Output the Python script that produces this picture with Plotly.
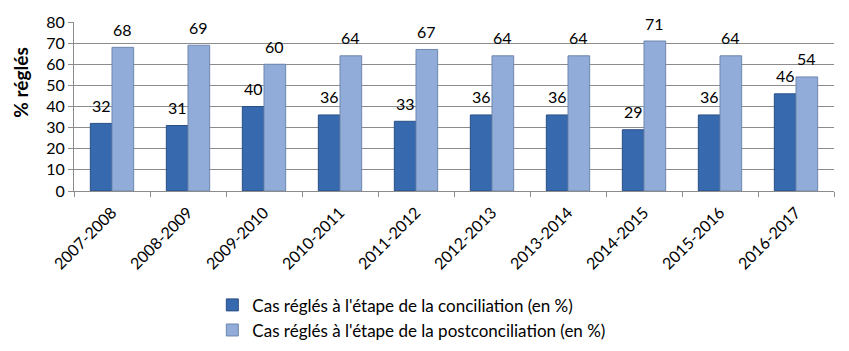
import plotly.graph_objects as go

categories = ["2007-2008", "2008-2009", "2009-2010", "2010-2011", "2011-2012",
              "2012-2013", "2013-2014", "2014-2015", "2015-2016", "2016-2017"]
conciliation = [32, 31, 40, 36, 33, 36, 36, 29, 36, 46]
postconciliation = [68, 69, 60, 64, 67, 64, 64, 71, 64, 54]
series_names = ["Cas réglés à l'étape de la conciliation (en %)",
                "Cas réglés à l'étape de la postconciliation (en %)"]
y_title = "% réglés"

FONT = "Lato, Carlito, Calibri, sans-serif"

fig = go.Figure()
fig.add_trace(go.Bar(
    x=categories, y=conciliation, name=series_names[0],
    marker=dict(color="#3769AE", line=dict(color="#2A4F86", width=1)),
))
fig.add_trace(go.Bar(
    x=categories, y=postconciliation, name=series_names[1],
    marker=dict(color="#91ACD8", line=dict(color="#6F86AE", width=1)),
))

# data labels above each bar (offset within the group)
for vals, xs in ((conciliation, -10.5), (postconciliation, 10.5)):
    for c, v in zip(categories, vals):
        fig.add_annotation(x=c, y=v, xref="x", yref="y", text=str(v),
                           showarrow=False, xshift=xs, yshift=18,
                           xanchor="center", yanchor="middle",
                           font=dict(size=16, family=FONT, color="#000000"))

# y-axis title (placed slightly above centre, as in the original)
fig.add_annotation(x=-0.07, y=0.64, xref="paper", yref="paper",
                   text="<b>" + y_title + "</b>", textangle=-90, showarrow=False,
                   xanchor="center", yanchor="middle",
                   font=dict(size=19, family=FONT, color="#000000"))

fig.update_layout(
    width=849, height=351,
    margin=dict(l=74, r=15, t=22, b=160, autoexpand=False),
    paper_bgcolor="white", plot_bgcolor="white",
    barmode="group", bargap=0.43, bargroupgap=0,
    font=dict(family=FONT, size=16, color="#000000"),
    showlegend=True,
    legend=dict(x=0.182, y=-0.57, xanchor="left", yanchor="top",
                orientation="v", font=dict(size=17, family=FONT),
                tracegroupgap=0, bgcolor="rgba(0,0,0,0)"),
)
fig.update_yaxes(
    range=[0, 80], dtick=10, showgrid=True, gridcolor="#8C8C8C", gridwidth=1,
    showline=True, linecolor="#8C8C8C", ticks="outside", ticklen=5,
    tickcolor="#8C8C8C", tickfont=dict(size=16, family=FONT),
    zeroline=False, fixedrange=True, automargin=False,
)
fig.update_xaxes(
    showline=True, linecolor="#8C8C8C", ticks="outside", ticklen=5,
    tickcolor="#8C8C8C", tickson="boundaries", tickangle=-45,
    tickfont=dict(size=16, family=FONT), fixedrange=True, automargin=False,
    ticklabelstandoff=5,
)

fig.write_html("out.html")
